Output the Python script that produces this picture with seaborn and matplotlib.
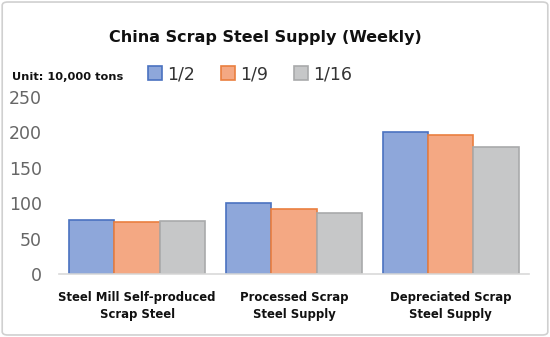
import matplotlib
matplotlib.use("Agg")
import matplotlib.pyplot as plt
import seaborn as sns
import pandas as pd
from matplotlib.patches import Patch, FancyBboxPatch

categories = ["Steel Mill Self-produced\nScrap Steel", "Processed Scrap\nSteel Supply", "Depreciated Scrap\nSteel Supply"]
weeks = ["1/2", "1/9", "1/16"]
v_0102 = [76, 101, 200]
v_0109 = [74, 92, 197]
v_0116 = [75, 86, 180]
yticks = [0, 50, 100, 150, 200, 250]

rows = []
for w, vals in zip(weeks, [v_0102, v_0109, v_0116]):
    for c, v in zip(categories, vals):
        rows.append({"category": c, "week": w, "value": v})
df = pd.DataFrame(rows)

fills = ["#8ea7da", "#f4a883", "#c6c7c8"]
edges = ["#4a72c0", "#ea7f3f", "#a9aaab"]

sns.set_style("white")
plt.rcParams['font.family'] = ['DejaVu Sans']

fig = plt.figure(figsize=(5.5, 3.37), dpi=100)
ax = fig.add_axes([0.107, 0.187, 0.855, 0.525])
sns.barplot(data=df, x="category", y="value", hue="week", order=categories,
            hue_order=weeks, palette=fills, width=0.87, ax=ax, legend=False,
            saturation=1, linewidth=1.2)
for i, cont in enumerate(ax.containers):
    for bar in cont:
        bar.set_edgecolor(edges[i])
        bar.set_linewidth(1.2)

ax.set_ylim(0, 250)
ax.set_xlim(-0.5, 2.5)
ax.set_yticks(yticks)
ax.set_yticklabels([str(t) for t in yticks], fontsize=12.5, color="#666666")
ax.set_xticks(range(len(categories)))
ax.set_xticklabels(categories, fontsize=8.4, fontweight="bold", color="#111111",
                   linespacing=1.35)
ax.tick_params(axis="x", length=0, pad=12.5)
ax.tick_params(axis="y", length=0, pad=12)
ax.set_xlabel("")
ax.set_ylabel("")
for s in ["top", "right", "left"]:
    ax.spines[s].set_visible(False)
ax.spines["bottom"].set_color("#d9d9d9")
ax.spines["bottom"].set_linewidth(1.2)

fig.text(0.482, 0.888, "China Scrap Steel Supply (Weekly)", ha="center", va="center",
         fontsize=11.5, fontweight="heavy", color="#111111")
fig.text(0.022, 0.772, "Unit: 10,000 tons", ha="left", va="center",
         fontsize=8.2, fontweight="bold", color="#111111")

handles = [Patch(facecolor=f, edgecolor=e, linewidth=1.2) for f, e in zip(fills, edges)]
fig.legend(handles, weeks, loc="center left", bbox_to_anchor=(0.241, 0.78), ncol=3,
           frameon=False, fontsize=12.5, handlelength=0.8, handleheight=0.8,
           handletextpad=0.3, columnspacing=1.5, labelcolor="#333333")

border = FancyBboxPatch((0.004, 0.006), 0.992, 0.988, boxstyle="round,pad=0,rounding_size=0.01",
                        transform=fig.transFigure, facecolor="none", edgecolor="#d0d0d0",
                        linewidth=1.2)
fig.patches.append(border)

fig.savefig("out.png", dpi=100, facecolor="white")
